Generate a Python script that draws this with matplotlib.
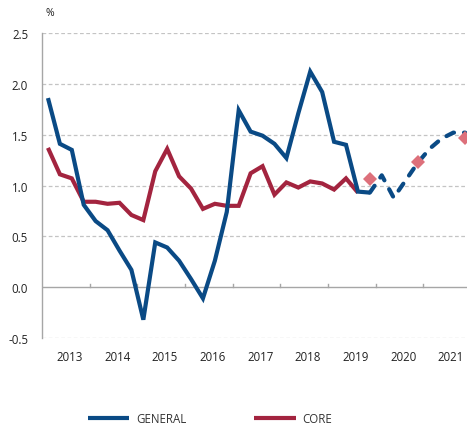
"""
plot.py
General and core inflation, quarterly, with forecast to 2021.
"""

import numpy as np
import matplotlib
matplotlib.use("Agg")
import matplotlib.pyplot as plt
from matplotlib.transforms import blended_transform_factory

# Data
# ----------------------------------------------------------------------
YEARS = ["2013", "2014", "2015", "2016", "2017", "2018", "2019", "2020", "2021"]

# quarterly observations, 2013Q1 .. 2019Q4
GENERAL = [1.86, 1.41, 1.35, 0.81,
           0.65, 0.56, 0.36, 0.17,
           -0.32, 0.44, 0.39, 0.26,
           0.08, -0.11, 0.26, 0.74,
           1.74, 1.53, 1.49, 1.41,
           1.27, 1.71, 2.12, 1.92,
           1.43, 1.40, 0.94, 0.93]
# quarterly observations, 2013Q1 .. 2019Q3
CORE = [1.37, 1.11, 1.07, 0.84,
        0.84, 0.82, 0.83, 0.71,
        0.66, 1.14, 1.36, 1.09,
        0.97, 0.77, 0.82, 0.80,
        0.80, 1.12, 1.19, 0.91,
        1.03, 0.98, 1.04, 1.02,
        0.96, 1.07, 0.93]
# forecast, 2019Q4 .. 2021Q4
GENERAL_FC = [0.93, 1.10, 0.88, 1.05, 1.22, 1.36, 1.46, 1.52, 1.52]
# annual core forecast, placed at Q4 of 2019, 2020, 2021
CORE_FC_Q = [27, 31, 35]
CORE_FC = [1.06, 1.23, 1.47]

YTICKS = [-0.5, 0.0, 0.5, 1.0, 1.5, 2.0, 2.5]
# ----------------------------------------------------------------------

BLUE = "#0a4a85"
RED = "#a3243f"
PINK = "#dd707b"
GRID = "#c4c4c4"
AXIS = "#a6a6a6"
TEXT = "#222222"
FONTSIZE = 8.3

plt.rcParams["font.family"] = ["Open Sans", "DejaVu Sans"]
plt.rcParams["font.size"] = FONTSIZE

fig = plt.figure(figsize=(4.67, 4.27), dpi=100)
ax = fig.add_axes([42 / 467, 1 - 339 / 427, 1 - 42 / 467, (339 - 34) / 427])

q_gen = np.arange(len(GENERAL))
q_core = np.arange(len(CORE))
q_fc = np.arange(len(GENERAL) - 1, len(GENERAL) - 1 + len(GENERAL_FC))

ax.plot(q_gen, GENERAL, color=BLUE, lw=3, solid_joinstyle="miter",
        solid_capstyle="butt", zorder=4, label="GENERAL")
ax.plot(q_core, CORE, color=RED, lw=3, solid_joinstyle="miter",
        solid_capstyle="butt", zorder=3, label="CORE")
ax.plot(q_fc, GENERAL_FC, color=BLUE, lw=3, linestyle=(0, (2.0, 2.4)),
        dash_capstyle="round", dash_joinstyle="round", zorder=4)
ax.plot(CORE_FC_Q, CORE_FC, linestyle="none", marker="D", markersize=7,
        color=PINK, markeredgewidth=0, zorder=5)

ax.set_xlim(-0.5, 35.15)
ax.set_ylim(-0.5, 2.5)

# grid and axes
ax.set_yticks(YTICKS)
ax.set_yticklabels(["%.1f" % v for v in YTICKS], color=TEXT)
ax.tick_params(axis="y", length=0, pad=10)
for v in YTICKS:
    if v != 0.0:
        ax.axhline(v, color=GRID, lw=0.9, linestyle=(0, (3, 2)), zorder=1)
ax.axhline(0.0, color=AXIS, lw=1.0, zorder=2)
for s in ["top", "right", "bottom"]:
    ax.spines[s].set_visible(False)
ax.spines["left"].set_color(AXIS)
ax.spines["left"].set_linewidth(1.0)

# year boundaries as small ticks on the zero line
ax.set_xticks([])
for k in range(1, len(YEARS) + 1):
    ax.plot([4 * k - 0.5, 4 * k - 0.5], [0.0, 0.035], color=AXIS, lw=1.0,
            zorder=2, clip_on=True)
trans = blended_transform_factory(ax.transData, ax.transAxes)
for k, year in enumerate(YEARS):
    ax.text(4 * k + 1.8, -0.06, year, transform=trans, ha="center",
            va="center", color=TEXT, fontsize=FONTSIZE)

fig.text(45 / 467, 1 - 13 / 427, "%", ha="left", va="center", color=TEXT,
         fontsize=FONTSIZE - 0.8)

fig.legend(loc="center", bbox_to_anchor=(210 / 467, 1 - 420 / 427), ncol=2,
           frameon=False, handlelength=3.6, handletextpad=0.6,
           columnspacing=5.9, fontsize=FONTSIZE, labelcolor="#333333")

fig.savefig("out.png", dpi=100)
